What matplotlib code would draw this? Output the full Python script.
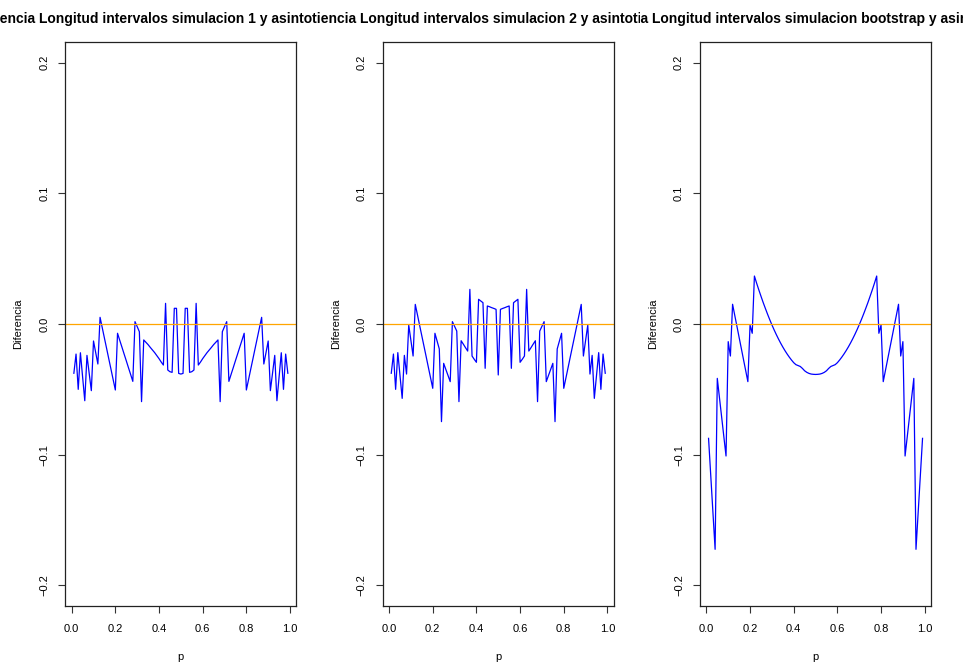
import numpy as np
import matplotlib
matplotlib.use("Agg")
import matplotlib.pyplot as plt
from matplotlib.transforms import Bbox, TransformedBbox

plt.rcParams['font.family'] = ['Liberation Sans', 'DejaVu Sans']

# ---------- data ----------
p = np.round(np.arange(1, 100) / 100, 2)

dif_sim1 = [-0.0377, -0.0230, -0.0500, -0.0220, -0.0404, -0.0587, -0.0240, -0.0375, -0.0510, -0.0130,
            -0.0219, -0.0306, 0.0051, -0.0028, -0.0108, -0.0187, -0.0267, -0.0346, -0.0426, -0.0505,
            -0.0071, -0.0124, -0.0176, -0.0229, -0.0281, -0.0334, -0.0386, -0.0439, 0.0018, -0.0020,
            -0.0059, -0.0594, -0.0122, -0.0140, -0.0158, -0.0179, -0.0199, -0.0219, -0.0242, -0.0265,
            -0.0291, -0.0314, 0.0158, -0.0352, -0.0365, -0.0370, 0.0120, 0.0120, -0.0378, -0.0383,
            -0.0378, 0.0120, 0.0120, -0.0370, -0.0365, -0.0352, 0.0158, -0.0314, -0.0291, -0.0265,
            -0.0242, -0.0219, -0.0199, -0.0179, -0.0158, -0.0140, -0.0122, -0.0594, -0.0059, -0.0020,
            0.0018, -0.0439, -0.0386, -0.0334, -0.0281, -0.0229, -0.0176, -0.0124, -0.0071, -0.0505,
            -0.0426, -0.0346, -0.0267, -0.0187, -0.0108, -0.0028, 0.0051, -0.0306, -0.0219, -0.0130,
            -0.0510, -0.0375, -0.0240, -0.0587, -0.0404, -0.0220, -0.0500, -0.0230, -0.0377]

dif_sim2 = [-0.0377, -0.0230, -0.0500, -0.0219, -0.0394, -0.0569, -0.0240, -0.0383, -0.0008, -0.0126,
            -0.0245, 0.0150, 0.0070, -0.0011, -0.0091, -0.0171, -0.0251, -0.0332, -0.0412, -0.0492,
            -0.0071, -0.0131, -0.0191, -0.0747, -0.0301, -0.0348, -0.0394, -0.0441, 0.0018, -0.0018,
            -0.0054, -0.0594, -0.0128, -0.0154, -0.0181, -0.0207, 0.0265, -0.0245, -0.0270, -0.0293,
            0.0189, 0.0176, 0.0163, -0.0339, 0.0138, 0.0132, 0.0125, 0.0119, 0.0112, -0.0390,
            0.0112, 0.0119, 0.0125, 0.0132, 0.0138, -0.0339, 0.0163, 0.0176, 0.0189, -0.0293,
            -0.0270, -0.0245, 0.0265, -0.0207, -0.0181, -0.0154, -0.0128, -0.0594, -0.0054, -0.0018,
            0.0018, -0.0441, -0.0394, -0.0348, -0.0301, -0.0747, -0.0191, -0.0131, -0.0071, -0.0492,
            -0.0412, -0.0332, -0.0251, -0.0171, -0.0091, -0.0011, 0.0070, 0.0150, -0.0245, -0.0126,
            -0.0008, -0.0383, -0.0240, -0.0569, -0.0394, -0.0219, -0.0500, -0.0230, -0.0377]

dif_boot = [-0.0875, -0.1158, -0.1441, -0.1724, -0.0416, -0.0565, -0.0713, -0.0862, -0.1010, -0.0135,
            -0.0245, 0.0151, 0.0066, -0.0018, -0.0103, -0.0187, -0.0272, -0.0356, -0.0441, -0.0008,
            -0.0071, 0.0367, 0.0313, 0.0262, 0.0213, 0.0165, 0.0120, 0.0076, 0.0034, -0.0006,
            -0.0044, -0.0080, -0.0114, -0.0146, -0.0176, -0.0204, -0.0230, -0.0254, -0.0276, -0.0296,
            -0.0311, -0.0318, -0.0325, -0.0340, -0.0358, -0.0370, -0.0378, -0.0383, -0.0385, -0.0386,
            -0.0385, -0.0383, -0.0378, -0.0370, -0.0358, -0.0340, -0.0325, -0.0318, -0.0311, -0.0296,
            -0.0276, -0.0254, -0.0230, -0.0204, -0.0176, -0.0146, -0.0114, -0.0080, -0.0044, -0.0006,
            0.0034, 0.0076, 0.0120, 0.0165, 0.0213, 0.0262, 0.0313, 0.0367, -0.0071, -0.0008,
            -0.0441, -0.0356, -0.0272, -0.0187, -0.0103, -0.0018, 0.0066, 0.0151, -0.0245, -0.0135,
            -0.1010, -0.0862, -0.0713, -0.0565, -0.0416, -0.1724, -0.1441, -0.1158, -0.0875]

titles = ["Diferencia Longitud intervalos simulacion 1 y asintotica",
          "Diferencia Longitud intervalos simulacion 2 y asintotica",
          "Diferencia Longitud intervalos simulacion bootstrap y asintotica"]
# part of each title that falls off the left edge of its panel
hidden_prefix = ["Difer", "Difer", "Diferenci"]

xticks = [0.0, 0.2, 0.4, 0.6, 0.8, 1.0]
xtick_labels = ["0.0", "0.2", "0.4", "0.6", "0.8", "1.0"]
yticks = [-0.2, -0.1, 0.0, 0.1, 0.2]
ytick_labels = ["\u22120.2", "\u22120.1", "0.0", "0.1", "0.2"]

series = [dif_sim1, dif_sim2, dif_boot]

# ---------- layout (pixels) ----------
W, H = 963, 665
fig = plt.figure(figsize=(W / 100, H / 100), dpi=100)
renderer = fig.canvas.get_renderer()

box_left = [65.3, 382.7, 700.0]
box_w = 231.1
box_top, box_bot = 41.7, 606.3
fig_regions = [(0, 321), (321, 640), (640, 963)]
title_fs = 10.0
small_fs = 8

for i in range(3):
    l = box_left[i]
    ax = fig.add_axes([l / W, (H - box_bot) / H, box_w / W, (box_bot - box_top) / H])
    ax.plot(p, series[i], color="blue", lw=0.9)
    ax.axhline(0, color="orange", lw=0.9)
    ax.set_xlim(-0.0292, 1.0292)
    ax.set_ylim(-0.216, 0.216)
    ax.set_xticks(xticks)
    ax.set_xticklabels(xtick_labels)
    ax.set_yticks(yticks)
    ax.set_yticklabels(ytick_labels, rotation=90, va="center")
    ax.tick_params(direction="out", length=5, width=0.8, labelsize=small_fs, color="#333333")
    ax.tick_params(axis="x", pad=7.5)
    ax.tick_params(axis="y", pad=6.5)
    for s in ax.spines.values():
        s.set_linewidth(0.9)
        s.set_color("#222222")

    # axis labels
    fig.text((l - 47) / W, 1 - 324 / H, "Diferencia", rotation=90,
             ha="center", va="center", fontsize=small_fs)
    fig.text((l + box_w / 2) / W, 1 - 657 / H, "p", ha="center", va="center", fontsize=small_fs)

    # title, clipped to the panel's figure region like R does
    lo, hi = fig_regions[i]
    tmp = fig.text(0, 0, hidden_prefix[i], fontsize=title_fs, fontweight="bold")
    w_pre = tmp.get_window_extent(renderer).width
    tmp.remove()
    t = fig.text((lo - w_pre) / W, 1 - 19 / H, titles[i], ha="left", va="center",
                 fontsize=title_fs, fontweight="bold")
    t.set_clip_box(TransformedBbox(Bbox([[lo / W, 0], [hi / W, 1]]), fig.transFigure))
    t.set_clip_on(True)

fig.savefig("out.png", dpi=100)
